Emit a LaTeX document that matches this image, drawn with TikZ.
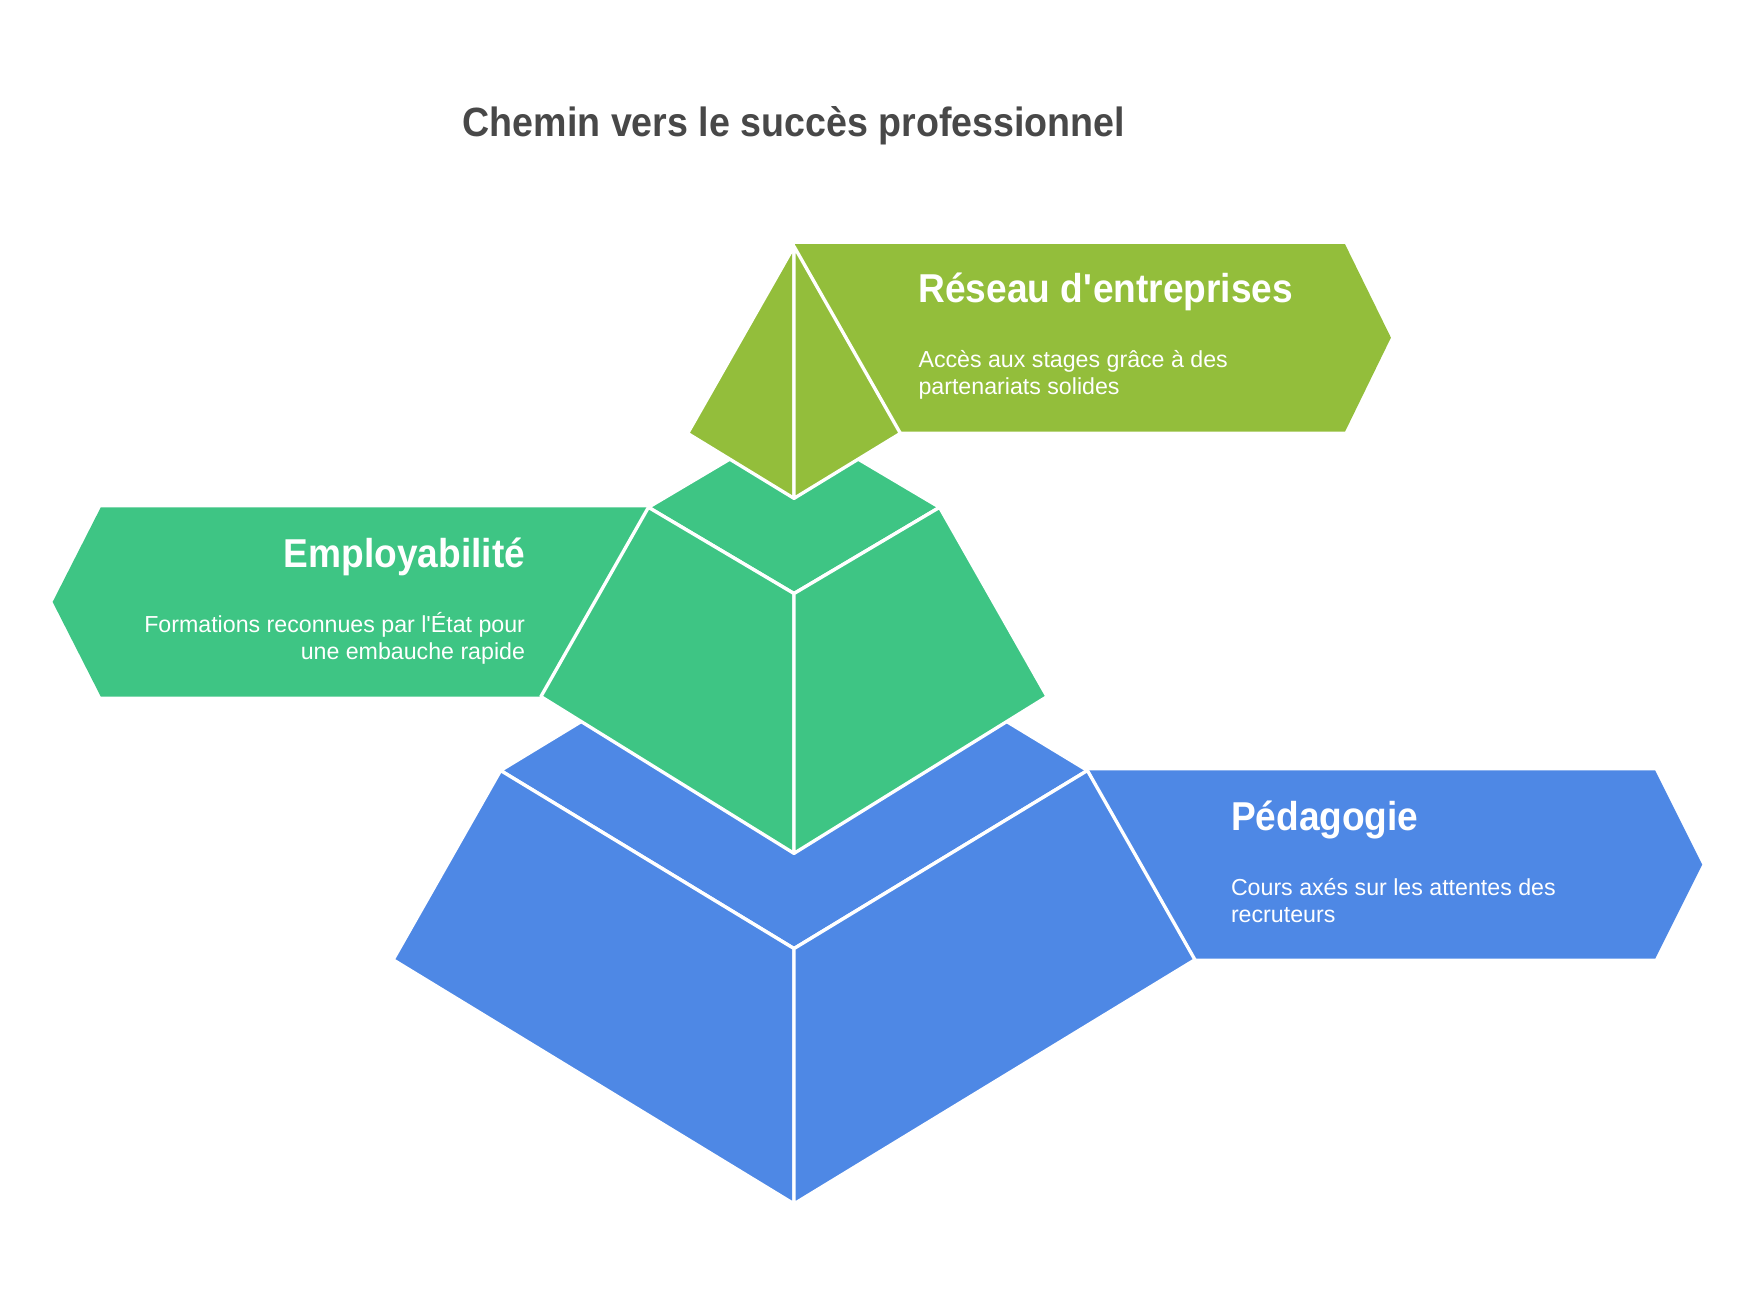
\documentclass[tikz,border=0pt]{standalone}
\usepackage{fontspec}
\setmainfont{Liberation Sans}[BoldFeatures={FakeStretch=0.92}]
\usetikzlibrary{positioning}

\definecolor{reseaucol}{HTML}{93BE3B}
\definecolor{emploicol}{HTML}{3EC584}
\definecolor{pedacol}{HTML}{4E88E5}
\definecolor{titlegray}{HTML}{484848}

\begin{document}
\begin{tikzpicture}[x=1pt, y=-1pt,
    face/.style={draw=white, line width=3pt, line join=round},
    titre/.style={font=\bfseries\fontsize{36.5}{40}\selectfont, text=titlegray, inner sep=0},
    tete/.style={font=\bfseries\fontsize{36}{40}\selectfont, text=white, inner sep=0},
    texte/.style={font=\fontsize{20.7}{24.5}\selectfont, text=white, inner sep=0}]
    \useasboundingbox (0,0) rectangle (1568,1166);

    % Title
    \node[titre, anchor=base] (titre) at (709,122) {Chemin vers le succès professionnel};

    % Bottom layer: Pedagogie
    \fill[pedacol] (971,688) -- (1478,688) -- (1520,772) -- (1478,856) -- (1067,856) -- cycle;
    \filldraw[fill=pedacol, face] (447,688) -- (709,529) -- (971,688) -- (709,847) -- cycle;
    \filldraw[fill=pedacol, face] (447,688) -- (709,847) -- (709,1075) -- (351,857) -- cycle;
    \filldraw[fill=pedacol, face] (971,688) -- (709,847) -- (709,1075) -- (1067,857) -- cycle;

    % Middle layer: Employabilite
    \fill[emploicol] (90,453) -- (579,453) -- (483,622) -- (90,622) -- (47,537.5) -- cycle;
    \filldraw[fill=emploicol, face] (579,453) -- (709,376) -- (839,453) -- (709,530) -- cycle;
    \filldraw[fill=emploicol, face] (579,453) -- (709,530) -- (709,762) -- (483,622) -- cycle;
    \filldraw[fill=emploicol, face] (839,453) -- (709,530) -- (709,762) -- (935,622) -- cycle;

    % Top layer: Reseau d'entreprises
    \fill[reseaucol] (710,218) -- (1201,218) -- (1242,301.5) -- (1201,385.5) -- (710,385.5) -- cycle;
    \filldraw[fill=reseaucol, face] (709,220) -- (709,445) -- (614,387) -- cycle;
    \filldraw[fill=reseaucol, face] (709,220) -- (709,445) -- (804,387) -- cycle;

    % Labels (base of a two-line node = last line)
    \node[tete, anchor=base west] (reseau) at (820,270) {Réseau d\textquotesingle entreprises};
    \node[texte, anchor=base west, align=left] (reseau-txt) at (820,352.5)
        {Accès aux stages grâce à des\\partenariats solides};
    \node[tete, anchor=base east] (emploi) at (469,507) {Employabilité};
    \node[texte, anchor=base east, align=right] (emploi-txt) at (469,589)
        {Formations reconnues par l\textquotesingle État pour\\une embauche rapide};
    \node[tete, anchor=base west] (peda) at (1099,742) {Pédagogie};
    \node[texte, anchor=base west, align=left] (peda-txt) at (1099,824)
        {Cours axés sur les attentes des\\recruteurs};
\end{tikzpicture}
\end{document}
